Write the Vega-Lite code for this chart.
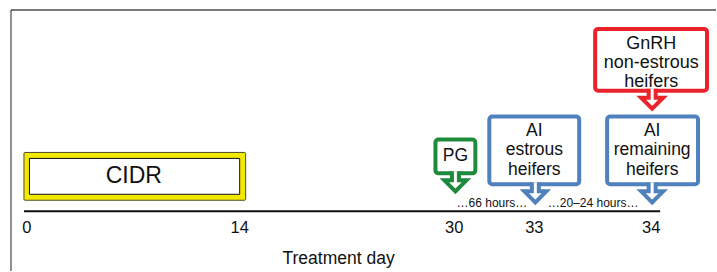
{
  "$schema": "https://vega.github.io/schema/vega-lite/v6.json",
  "width": 717,
  "height": 272,
  "autosize": {"type": "fit", "contains": "padding"},
  "padding": 0,
  "background": "white",
  "config": {"view": {"stroke": null}, "text": {"font": "Liberation Sans"}},
  "datasets": {
    "frameTop": [{"x1": -1.12, "x2": 48.36, "y1": 10, "y2": 10}],
    "frameLeft": [{"x1": -1.12, "x2": -1.12, "y1": 10, "y2": 272}],
    "timeline": [{"x1": -0.21, "x2": 44.44, "y1": 212, "y2": 212}],
    "boxes": [
      {"event": "PG", "kind": "PG", "x1": 28.67, "x2": 31.47, "y1": 140, "y2": 174},
      {"event": "AI estrous", "kind": "AI", "x1": 32.45, "x2": 38.76, "y1": 117, "y2": 185},
      {"event": "AI remaining", "kind": "AI", "x1": 40.72, "x2": 47.10, "y1": 117, "y2": 185},
      {"event": "GnRH", "kind": "GnRH", "x1": 39.88, "x2": 47.73, "y1": 29, "y2": 91}
    ],
    "arrows": [
      {"event": "PG", "kind": "PG", "x": 30.07, "y": 174},
      {"event": "AI estrous", "kind": "AI", "x": 35.68, "y": 185},
      {"event": "AI remaining", "kind": "AI", "x": 43.88, "y": 185},
      {"event": "GnRH", "kind": "GnRH", "x": 43.88, "y": 91}
    ],
    "labels": [
      {"text": "PG", "x": 30.07, "y": 157},
      {"text": "AI\nestrous\nheifers", "x": 35.61, "y": 131},
      {"text": "AI\nremaining\nheifers", "x": 43.88, "y": 131}
    ],
    "gnrhLabel": [
      {"text": "GnRH\nnon-estrous\nheifers", "x": 43.81, "y": 44}
    ],
    "ticks": [
      {"day": "0", "x": 0},
      {"day": "14", "x": 14.93},
      {"day": "30", "x": 29.99},
      {"day": "33", "x": 35.61},
      {"day": "34", "x": 43.81}
    ],
    "intervals": [
      {"text": "…66 hours…", "x": 32.63},
      {"text": "…20–24 hours…", "x": 39.74}
    ]
  },
  "layer": [
    {
      "data": {"name": "frameTop"},
      "mark": {"type": "rule", "color": "#7a7a7a", "strokeWidth": 2},
      "encoding": {
        "x": {"field": "x1", "type": "quantitative", "scale": {"domain": [-1.892, 48.36], "nice": false, "zero": false}, "axis": null},
        "x2": {"field": "x2"},
        "y": {"field": "y1", "type": "quantitative", "scale": {"domain": [0, 272], "reverse": true, "nice": false, "zero": false}, "axis": null},
        "y2": {"field": "y2"}
      }
    },
    {
      "data": {"name": "frameLeft"},
      "mark": {"type": "rule", "color": "#222222", "strokeWidth": 1},
      "encoding": {
        "x": {"field": "x1", "type": "quantitative"},
        "x2": {"field": "x2"},
        "y": {"field": "y1", "type": "quantitative"},
        "y2": {"field": "y2"}
      }
    },
    {
      "data": {"name": "timeline"},
      "mark": {"type": "rule", "color": "#111111", "strokeWidth": 2},
      "encoding": {
        "x": {"field": "x1", "type": "quantitative"},
        "x2": {"field": "x2"},
        "y": {"field": "y1", "type": "quantitative"},
        "y2": {"field": "y2"}
      }
    },
    {
      "data": {"values": [{"event": "CIDR", "x1": -0.21, "x2": 15.35, "y1": 153, "y2": 201}]},
      "mark": {"type": "rect", "fill": "#f2e800", "stroke": "#4d4d2a", "strokeWidth": 1, "cornerRadius": 1},
      "encoding": {
        "x": {"field": "x1", "type": "quantitative"},
        "x2": {"field": "x2"},
        "y": {"field": "y1", "type": "quantitative"},
        "y2": {"field": "y2"}
      }
    },
    {
      "data": {"values": [{"event": "CIDR", "x1": 0.175, "x2": 14.93, "y1": 159, "y2": 195}]},
      "mark": {"type": "rect", "fill": "white", "stroke": "#111111", "strokeWidth": 1},
      "encoding": {
        "x": {"field": "x1", "type": "quantitative"},
        "x2": {"field": "x2"},
        "y": {"field": "y1", "type": "quantitative"},
        "y2": {"field": "y2"}
      }
    },
    {
      "data": {"values": [{"text": "CIDR", "x": 7.5, "y": 176.5}]},
      "mark": {"type": "text", "fontSize": 23, "color": "#111111", "baseline": "middle", "align": "center"},
      "encoding": {
        "x": {"field": "x", "type": "quantitative"},
        "y": {"field": "y", "type": "quantitative"},
        "text": {"field": "text"}
      }
    },
    {
      "data": {"name": "boxes"},
      "mark": {"type": "rect", "fill": "white", "strokeWidth": 4, "cornerRadius": 3},
      "encoding": {
        "x": {"field": "x1", "type": "quantitative"},
        "x2": {"field": "x2"},
        "y": {"field": "y1", "type": "quantitative"},
        "y2": {"field": "y2"},
        "stroke": {"field": "kind", "type": "nominal", "scale": {"domain": ["PG", "AI", "GnRH"], "range": ["#1e8a3c", "#4f81bd", "#e8232a"]}, "legend": null}
      }
    },
    {
      "data": {"name": "arrows"},
      "mark": {"type": "point", "filled": true, "fill": "white", "strokeWidth": 4, "opacity": 1, "shape": "M -3.5 -2 L -3.5 7 L -11 7 L 0 18 L 11 7 L 3.5 7 L 3.5 -2", "size": 4},
      "encoding": {
        "x": {"field": "x", "type": "quantitative"},
        "y": {"field": "y", "type": "quantitative"},
        "stroke": {"field": "kind", "type": "nominal", "scale": {"domain": ["PG", "AI", "GnRH"], "range": ["#1e8a3c", "#4f81bd", "#e8232a"]}, "legend": null}
      }
    },
    {
      "data": {"name": "labels"},
      "mark": {"type": "text", "fontSize": 17.5, "lineHeight": 19.5, "lineBreak": "\n", "color": "#111111", "baseline": "middle", "align": "center"},
      "encoding": {
        "x": {"field": "x", "type": "quantitative"},
        "y": {"field": "y", "type": "quantitative"},
        "text": {"field": "text"}
      }
    },
    {
      "data": {"name": "gnrhLabel"},
      "mark": {"type": "text", "fontSize": 18, "lineHeight": 19, "lineBreak": "\n", "color": "#111111", "baseline": "middle", "align": "center"},
      "encoding": {
        "x": {"field": "x", "type": "quantitative"},
        "y": {"field": "y", "type": "quantitative"},
        "text": {"field": "text"}
      }
    },
    {
      "data": {"name": "ticks"},
      "mark": {"type": "text", "fontSize": 16.5, "color": "#111111", "baseline": "middle", "align": "center", "y": 227.5},
      "encoding": {
        "x": {"field": "x", "type": "quantitative"},
        "text": {"field": "day"}
      }
    },
    {
      "data": {"name": "intervals"},
      "mark": {"type": "text", "fontSize": 12, "color": "#111111", "baseline": "middle", "align": "center", "y": 202.5},
      "encoding": {
        "x": {"field": "x", "type": "quantitative"},
        "text": {"field": "text"}
      }
    },
    {
      "data": {"values": [{"text": "Treatment day", "x": 21.87}]},
      "mark": {"type": "text", "fontSize": 17.5, "color": "#111111", "baseline": "middle", "align": "center", "y": 259},
      "encoding": {
        "x": {"field": "x", "type": "quantitative"},
        "text": {"field": "text"}
      }
    }
  ]
}
